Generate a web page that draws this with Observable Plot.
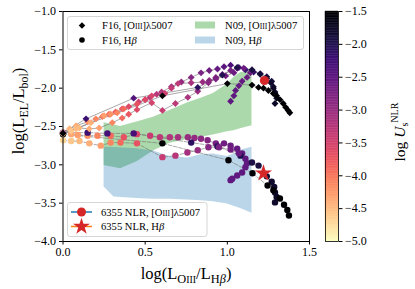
<!DOCTYPE html>
<html><head><meta charset="utf-8">
<script src="https://cdn.jsdelivr.net/npm/d3@7"></script>
<script src="https://cdn.jsdelivr.net/npm/@observablehq/plot@0.6"></script>
<style>
body{margin:0;background:#fff}
#wrap{position:relative;width:415px;height:289px}
#wrap svg{position:absolute;left:0;top:0;overflow:visible}
</style>
</head><body><div id="wrap"></div>
<script>
const FONT = "'Liberation Serif','DejaVu Serif',serif";

// F16 model tracks: [log(LOIII/LHb), log(LEL/Lbol), logU]
const oiiiTrackA = [[0.00,-2.57,-4.5],[0.04,-2.53,-4.45],[0.08,-2.49,-4.4],[0.15,-2.44,-4.2],[0.20,-2.40,-4.1],[0.24,-2.37,-4.0],[0.28,-2.34,-3.9],[0.32,-2.31,-3.8],[0.36,-2.27,-3.7],[0.40,-2.24,-3.6],[0.46,-2.18,-3.45],[0.50,-2.15,-3.38],[0.53,-2.12,-3.3],[0.57,-2.08,-3.25],[0.60,-2.05,-3.2],[0.66,-1.98,-3.05],[0.72,-1.92,-2.95],[0.78,-1.86,-2.85],[0.84,-1.80,-2.75],[0.89,-1.77,-2.65],[0.94,-1.75,-2.55],[0.98,-1.72,-2.45],[1.02,-1.70,-2.35],[1.07,-1.73,-2.3],[1.11,-1.76,-2.2],[1.16,-1.79,-2.1],[1.20,-1.81,-2.0],[1.24,-1.85,-1.95],[1.27,-1.91,-1.9],[1.28,-1.98,-1.85],[1.29,-2.05,-1.8],[1.30,-2.13,-1.75],[1.29,-2.20,-1.75]];
const oiiiTrackB = [[0.00,-2.58,-4.6],[0.08,-2.53,-4.5],[0.17,-2.45,-4.4],[0.25,-2.36,-4.3],[0.29,-2.34,-4.2],[0.33,-2.32,-4.1],[0.37,-2.27,-3.9],[0.45,-2.21,-3.7],[0.50,-2.15,-3.6],[0.54,-2.10,-3.55],[0.62,-2.07,-3.45],[0.66,-2.00,-3.38],[0.70,-1.94,-3.3],[0.78,-1.93,-3.15],[0.85,-1.92,-3.0],[0.89,-1.90,-2.9],[0.93,-1.86,-2.8],[0.97,-1.82,-2.75],[1.02,-1.77,-2.7],[1.06,-1.74,-2.65],[1.10,-1.74,-2.6],[1.14,-1.80,-2.6],[1.12,-1.86,-2.6],[1.09,-1.91,-2.55],[1.07,-1.97,-2.55],[1.05,-2.03,-2.5],[1.04,-2.10,-2.5],[1.02,-2.17,-2.5]];
const oiiiTrackC = [[0.00,-2.60,-4.7],[0.05,-2.56,-4.6],[0.10,-2.52,-4.5],[0.16,-2.53,-4.4],[0.22,-2.52,-4.3],[0.30,-2.45,-4.1],[0.36,-2.39,-3.9],[0.40,-2.34,-3.75],[0.45,-2.28,-3.6],[0.54,-2.19,-3.5],[0.605,-2.29,-3.4],[0.684,-2.20,-3.3],[0.76,-2.12,-3.15],[0.82,-2.04,-3.0],[0.885,-1.93,-2.85],[0.93,-1.88,-2.75],[0.99,-1.84,-2.65],[1.04,-1.80,-2.6]];
const oiiiTrackD = [[0.00,-2.58,-2.3],[0.14,-2.40,-2.2],[0.43,-2.13,-2.4],[0.82,-1.99,-2.1],[0.97,-1.83,-2.0],[1.06,-1.73,-1.95],[1.15,-1.76,-1.9],[1.20,-1.82,-1.85],[1.24,-1.87,-1.8],[1.265,-1.93,-1.8],[1.28,-2.00,-1.75],[1.29,-2.07,-1.75]];
const oiiiTrackE = [[0.00,-2.59,-1.5],[0.605,-2.10,-1.5],[1.00,-1.94,-1.5],[1.15,-1.96,-1.5],[1.19,-1.99,-1.5],[1.22,-2.00,-1.5],[1.25,-2.03,-1.5],[1.28,-2.07,-1.5],[1.30,-2.10,-1.5],[1.32,-2.15,-1.5],[1.34,-2.20,-1.5],[1.355,-2.25,-1.5],[1.37,-2.29,-1.5],[1.38,-2.32,-1.5]];

const hbTrackA = [[0.00,-2.59,-4.4],[0.05,-2.60,-4.35],[0.09,-2.61,-4.3],[0.15,-2.62,-4.2],[0.21,-2.62,-4.1],[0.29,-2.62,-3.9],[0.37,-2.64,-3.7],[0.45,-2.60,-3.55],[0.53,-2.62,-3.4],[0.59,-2.64,-3.3],[0.65,-2.64,-3.2],[0.70,-2.64,-3.1],[0.76,-2.64,-3.0],[0.80,-2.65,-2.95],[0.84,-2.66,-2.9],[0.88,-2.68,-2.8],[0.93,-2.72,-2.7],[0.98,-2.72,-2.65],[1.02,-2.75,-2.6],[1.06,-2.79,-2.55],[1.09,-2.85,-2.55],[1.11,-2.92,-2.5],[1.12,-2.98,-2.5],[1.11,-3.03,-2.5],[1.09,-3.10,-2.5],[1.06,-3.14,-2.5],[1.03,-3.18,-2.5],[1.02,-3.20,-2.5]];
const hbTrackB = [[0.00,-2.58,-2.3],[0.15,-2.58,-2.2],[0.27,-2.59,-2.3],[0.43,-2.59,-2.3],[0.78,-2.71,-2.1],[0.94,-2.76,-2.1],[1.08,-2.88,-2.0],[1.15,-2.97,-1.95],[1.19,-3.01,-1.9],[1.24,-3.15,-1.85],[1.27,-3.22,-1.8],[1.285,-3.29,-1.8],[1.29,-3.36,-1.75],[1.30,-3.42,-1.75],[1.29,-3.49,-1.8]];
const hbTrackC = [[0.00,-2.68,-4.7],[0.05,-2.69,-4.6],[0.10,-2.69,-4.5],[0.16,-2.72,-4.4],[0.23,-2.75,-4.3],[0.29,-2.71,-4.1],[0.35,-2.71,-3.9],[0.45,-2.72,-3.7],[0.605,-2.90,-3.4],[0.684,-2.88,-3.25],[0.757,-2.84,-3.1],[0.82,-2.81,-3.0],[0.885,-2.77,-2.85],[0.95,-2.77,-2.75],[1.02,-2.80,-2.65],[1.07,-2.85,-2.6]];
const hbTrackD = [[0.00,-2.60,-1.5],[0.605,-2.72,-1.5],[1.007,-2.94,-1.5],[1.153,-3.11,-1.5],[1.245,-3.27,-1.5],[1.28,-3.33,-1.5],[1.32,-3.44,-1.5],[1.345,-3.52,-1.5],[1.365,-3.59,-1.5],[1.375,-3.66,-1.5]];

// N09 ranges
const n09OiiiX      = [0.25, 0.35, 0.45, 0.55, 0.65, 0.76, 0.84, 0.915, 1.00, 1.04, 1.08, 1.15];
const n09OiiiTop    = [-2.45,-2.50,-2.44,-2.38,-2.29,-2.19,-2.13,-2.07,-1.95,-1.86,-1.80,-1.77];
const n09OiiiBottom = [-3.01,-3.05,-2.96,-2.82,-2.72,-2.67,-2.64,-2.61,-2.57,-2.555,-2.53,-2.49];
const n09HbX      = [0.25, 0.31, 0.45, 0.55, 0.65, 0.76, 0.84, 0.915, 1.00, 1.04, 1.08, 1.15];
const n09HbTop    = [-2.77,-2.775,-2.79,-2.82,-2.89,-2.91,-2.87,-2.86,-2.89,-2.86,-2.81,-2.77];
const n09HbBottom = [-3.29,-3.42,-3.44,-3.45,-3.45,-3.46,-3.47,-3.48,-3.51,-3.54,-3.57,-3.63];

// 6355 NLR
const nlrOiii = [[1.226,-1.90]];
const nlrHb = [[1.22,-3.11]];

const xTicks = [0, 0.5, 1.0, 1.5];
const yTicks = [-4, -3.5, -3, -2.5, -2, -1.5, -1];
const uTicks = [-5, -4.5, -4, -3.5, -3, -2.5, -2, -1.5];

const toRows = (tracks) => tracks.flatMap((t, i) => t.map(([x, y, u]) => ({x, y, u, track: i})));
const oiiiRows = toRows([oiiiTrackA, oiiiTrackB, oiiiTrackC, oiiiTrackD, oiiiTrackE]);
const hbRows = toRows([hbTrackA, hbTrackB, hbTrackC, hbTrackD]);
const greenArea = n09OiiiX.map((x, i) => ({x, lo: n09OiiiBottom[i], hi: n09OiiiTop[i]}));
const blueArea = n09HbX.map((x, i) => ({x, lo: n09HbBottom[i], hi: n09HbTop[i]}));

const colorOpt = {type: "linear", scheme: "magma", domain: [-5, -1.5], reverse: true};
const fmt = d3.format(".1f");

const plot = Plot.plot({
  width: 415, height: 289,
  marginLeft: 62.5, marginRight: 106, marginTop: 11, marginBottom: 48,
  style: {fontFamily: FONT, fontSize: "12px", background: "transparent", color: "black"},
  x: {domain: [0, 1.5], label: null},
  y: {domain: [-4, -1], label: null},
  color: colorOpt,
  marks: [
    Plot.areaY(greenArea, {x: "x", y1: "lo", y2: "hi", fill: "#2ca02c", fillOpacity: 0.4}),
    Plot.areaY(blueArea, {x: "x", y1: "lo", y2: "hi", fill: "#1f77b4", fillOpacity: 0.3}),
    Plot.line(oiiiRows, {x: "x", y: "y", z: "track", stroke: "#6f6f6f", strokeOpacity: 0.6, strokeWidth: 1}),
    Plot.line(hbRows, {x: "x", y: "y", z: "track", stroke: "#6f6f6f", strokeOpacity: 0.6, strokeWidth: 1, strokeDasharray: "3.7,1.6"}),
    Plot.dot(hbRows, {x: "x", y: "y", fill: "u", r: 3.2, symbol: "circle"}),
    Plot.dot(oiiiRows, {x: "x", y: "y", fill: "u", r: 3.1, symbol: "diamond2"}),
    Plot.dot(nlrOiii, {x: d => d[0], y: d => d[1], fill: "#d62728", r: 4.6, symbol: "circle"}),
    Plot.dot(nlrHb, {x: d => d[0], y: d => d[1], fill: "#d62728", r: 5.4, symbol: "star"}),
    Plot.axisX({ticks: xTicks, tickFormat: fmt, tickSize: 3.5, tickPadding: 2.5, label: null}),
    Plot.axisY({ticks: yTicks, tickFormat: fmt, tickSize: 3.5, tickPadding: 3.5, label: null}),
    Plot.frame({stroke: "black", strokeWidth: 1})
  ]
});

const cbStep = 0.025;
const cbSteps = d3.range(-5, -1.5, cbStep);
const cbar = Plot.plot({
  width: 415, height: 289,
  marginLeft: 325, marginRight: 77, marginTop: 11, marginBottom: 48,
  style: {fontFamily: FONT, fontSize: "12px", background: "transparent", color: "black"},
  x: {domain: [0, 1], axis: null},
  y: {domain: [-5, -1.5], label: null},
  color: colorOpt,
  marks: [
    Plot.rect(cbSteps, {x1: 0, x2: 1, y1: d => d, y2: d => d + cbStep, fill: d => d + cbStep / 2, stroke: d => d + cbStep / 2, strokeWidth: 0.4}),
    Plot.axisY({anchor: "right", ticks: uTicks, tickFormat: fmt, tickSize: 3.5, tickPadding: 3, label: null}),
    Plot.frame({stroke: "black", strokeWidth: 0.8})
  ]
});

const wrap = document.getElementById("wrap");
wrap.appendChild(plot);
wrap.appendChild(cbar);

function richText(parent, x, y, parts, size, opts = {}) {
  const t = parent.append("text").attr("x", x).attr("y", y).attr("font-size", size)
    .attr("font-family", FONT).attr("fill", "black")
    .attr("text-anchor", opts.anchor || "start");
  if (opts.rotate) t.attr("transform", `rotate(${opts.rotate},${x},${y})`);
  let shift = 0;
  for (const p of parts) {
    const [s, o] = typeof p === "string" ? [p, {}] : p;
    const ts = t.append("tspan").text(s);
    const target = o.dy || 0;
    if (target !== shift) { ts.attr("dy", target - shift); shift = target; }
    if (o.size) ts.attr("font-size", size * o.size);
    if (o.italic) ts.attr("font-style", "italic");
  }
  return t;
}

const svg = d3.select(plot);
const g = svg.append("g");

// axis labels
richText(g, 24, 111, ["log(L", ["EL", {size: 0.72, dy: 3.5}], ["/L", {}], ["bol", {size: 0.72, dy: 3.5}], [")", {}]], 16.5, {anchor: "middle", rotate: -90});
richText(g, 186, 279, ["log(L", ["O", {size: 0.75, dy: 3.5}], ["III", {size: 0.6, dy: 3.5}], ["/L", {}], ["H", {size: 0.75, dy: 3.5}], ["β", {size: 0.75, dy: 3.5, italic: true}], [")", {}]], 16.5, {anchor: "middle"});

// colorbar label
const cg = d3.select(cbar).append("g");
richText(cg, 405, 132, ["log", [" U", {italic: true}], ["s", {size: 0.65, dy: 3}], ["NLR", {size: 0.65, dy: -7}]], 15.5, {anchor: "middle", rotate: -90});

// legend: top
const LF = 10.6;
const lt = g.append("g");
lt.append("rect").attr("x", 67.5).attr("y", 16.5).attr("width", 236).attr("height", 33).attr("rx", 2.5)
  .attr("fill", "white").attr("fill-opacity", 0.85).attr("stroke", "#cccccc").attr("stroke-width", 0.8);
lt.append("path").attr("d", d3.symbol(d3.symbolDiamond2, Math.PI * 2.9 * 2.9)()).attr("transform", "translate(82,25.5)").attr("fill", "black");
lt.append("circle").attr("cx", 82).attr("cy", 40).attr("r", 2.8).attr("fill", "black");
richText(lt, 102, 29, ["F16, [O", ["III", {size: 0.72}], ["]λ5007", {}]], LF);
richText(lt, 102, 43.5, ["F16, H", ["β", {italic: true}]], LF);
lt.append("rect").attr("x", 195).attr("y", 21.5).attr("width", 20).attr("height", 7).attr("fill", "#2ca02c").attr("fill-opacity", 0.4);
lt.append("rect").attr("x", 195).attr("y", 36.5).attr("width", 20).attr("height", 7).attr("fill", "#1f77b4").attr("fill-opacity", 0.3);
richText(lt, 225, 29, ["N09, [O", ["III", {size: 0.72}], ["]λ5007", {}]], LF);
richText(lt, 225, 43.5, ["N09, H", ["β", {italic: true}]], LF);

// legend: bottom
const lb = g.append("g");
lb.append("rect").attr("x", 67.5).attr("y", 202.5).attr("width", 139.5).attr("height", 34).attr("rx", 2.5)
  .attr("fill", "white").attr("fill-opacity", 0.85).attr("stroke", "#cccccc").attr("stroke-width", 0.8);
lb.append("line").attr("x1", 71).attr("x2", 92).attr("y1", 212).attr("y2", 212).attr("stroke", "#1f77b4").attr("stroke-width", 1.5);
lb.append("circle").attr("cx", 81.5).attr("cy", 212).attr("r", 4.5).attr("fill", "#d62728");
lb.append("line").attr("x1", 71).attr("x2", 92).attr("y1", 226.5).attr("y2", 226.5).attr("stroke", "#ff7f0e").attr("stroke-width", 1.5);
lb.append("path").attr("d", d3.symbol(d3.symbolStar, Math.PI * 5.3 * 5.3)()).attr("transform", "translate(81.5,226.5)").attr("fill", "#d62728");
richText(lb, 101, 215.5, ["6355 NLR, [O", ["III", {size: 0.72}], ["]λ5007", {}]], LF);
richText(lb, 101, 230, ["6355 NLR, H", ["β", {italic: true}]], LF);
</script>
</body></html>
